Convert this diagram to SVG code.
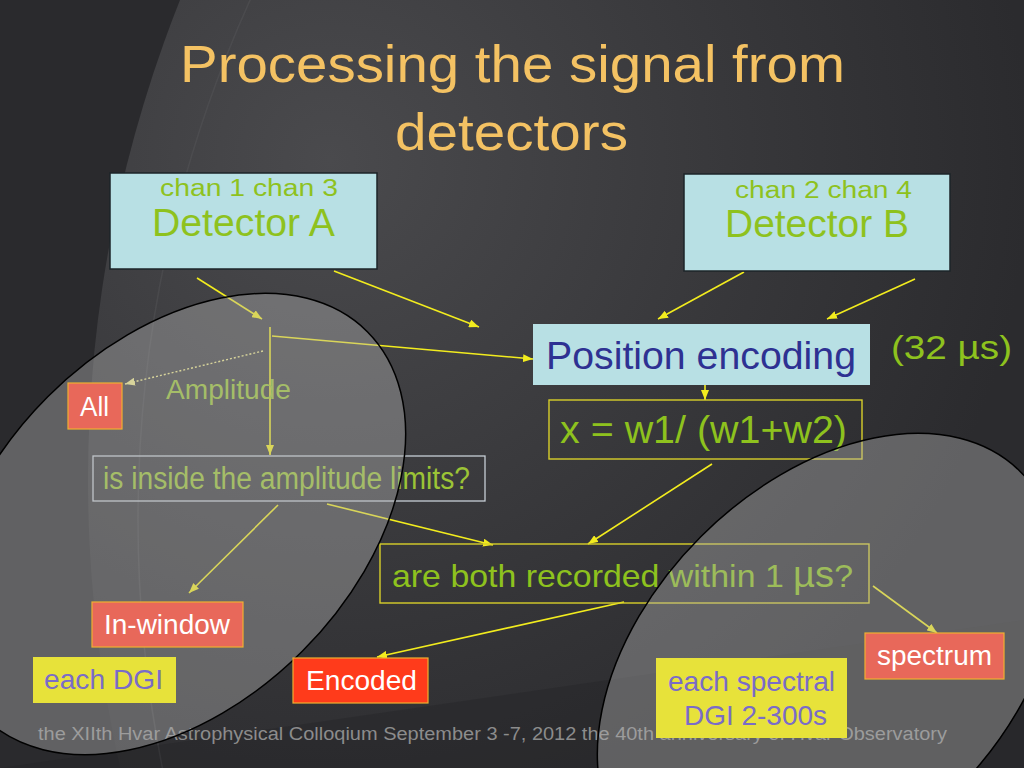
<svg xmlns="http://www.w3.org/2000/svg" width="1024" height="768" viewBox="0 0 1024 768">
<defs>
  <radialGradient id="glow" gradientUnits="userSpaceOnUse" cx="330" cy="160" r="700">
    <stop offset="0" stop-color="#4a4a4d"/>
    <stop offset="0.6" stop-color="#37373a"/>
    <stop offset="1" stop-color="#2b2b2e"/>
  </radialGradient>
  <marker id="ah" viewBox="0 0 10 8" refX="10" refY="4" markerWidth="10" markerHeight="8" markerUnits="userSpaceOnUse" orient="auto">
    <path d="M0,0 L10,4 L0,8 z" fill="#f2ec1e"/>
  </marker>
  <marker id="ahd" viewBox="0 0 10 8" refX="10" refY="4" markerWidth="10" markerHeight="8" markerUnits="userSpaceOnUse" orient="auto">
    <path d="M0,0 L10,4 L0,8 z" fill="#eee88a"/>
  </marker>
</defs>
<style>
  text { font-family: "Liberation Sans", Arial, sans-serif; }
  .conn { stroke: #f2ec1e; stroke-width: 1.6; fill: none; marker-end: url(#ah); }
  .dotted { stroke: #eee88a; stroke-width: 1.4; stroke-dasharray: 2 2; fill: none; marker-end: url(#ahd); }
  .det { fill: #b8e0e4; stroke: #1c2428; stroke-width: 1.5; }
  .pe { fill: #b8e0e4; }
  .green { fill: #8ec21e; }
  .ybox { fill: none; stroke: #d8cf2a; stroke-width: 1.4; }
  .red { fill: #e8685a; stroke: #f0b030; stroke-width: 1.2; }
  .yel { fill: #e7e23a; }
  .wt { fill: #ffffff; font-size: 27px; }
  .pt { fill: #7a6cc8; font-size: 28px; }
  .ell { fill: #b4b4b4; fill-opacity: 0.4; stroke: #000000; stroke-width: 1.5; }
</style>

<!-- background -->
<rect x="0" y="0" width="1024" height="768" fill="#2a2a2d"/>
<circle cx="1386" cy="480" r="1298" fill="url(#glow)"/>
<circle cx="1400" cy="520" r="1262" fill="none" stroke="#5c5c5f" stroke-opacity="0.35" stroke-width="1.5"/>
<path d="M0,768 L1024,620 L1024,768 Z" fill="#222225" fill-opacity="0.35"/>

<!-- footer -->
<text x="38" y="740" font-size="18" fill="#8c8c8c" textLength="909" lengthAdjust="spacingAndGlyphs">the  XIIth Hvar Astrophysical Colloqium September 3 -7, 2012 the 40th anniversary of Hvar Observatory</text>

<!-- title -->
<g id="title" fill="#f4c263">
  <text x="180" y="82" font-size="52" textLength="665" lengthAdjust="spacingAndGlyphs">Processing the signal from</text>
  <text x="395" y="150" font-size="52" textLength="233" lengthAdjust="spacingAndGlyphs">detectors</text>
</g>

<!-- connectors -->
<g id="connectors">
  <line class="conn" x1="197" y1="278" x2="262" y2="319"/>
  <line class="conn" x1="334" y1="271" x2="479" y2="327"/>
  <line class="conn" x1="270" y1="327" x2="270" y2="455"/>
  <line class="conn" x1="272" y1="336" x2="533" y2="359"/>
  <line class="dotted" x1="263" y1="351" x2="125" y2="384"/>
  <line class="conn" x1="744" y1="272" x2="658" y2="319"/>
  <line class="conn" x1="915" y1="279" x2="827" y2="319"/>
  <line class="conn" x1="705" y1="385" x2="705" y2="400"/>
  <line class="conn" x1="712" y1="464" x2="588" y2="544"/>
  <line class="conn" x1="327" y1="504" x2="493" y2="545"/>
  <line class="conn" x1="278" y1="505" x2="189" y2="593"/>
  <line class="conn" x1="624" y1="602" x2="377" y2="657"/>
  <line class="conn" x1="873" y1="586" x2="937" y2="633"/>
</g>

<g id="detectorA">
  <rect class="det" x="110" y="173" width="267" height="96"/>
  <text class="green" x="160" y="196" font-size="23" textLength="178" lengthAdjust="spacingAndGlyphs">chan 1 chan 3</text>
  <text class="green" x="152" y="236" font-size="39" textLength="183" lengthAdjust="spacingAndGlyphs">Detector A</text>
</g>

<g id="detectorB">
  <rect class="det" x="684" y="174" width="266" height="97"/>
  <text class="green" x="735" y="198" font-size="23" textLength="177" lengthAdjust="spacingAndGlyphs">chan 2 chan 4</text>
  <text class="green" x="725" y="237" font-size="39" textLength="184" lengthAdjust="spacingAndGlyphs">Detector B</text>
</g>

<g id="positionEncoding">
  <rect class="pe" x="533" y="324" width="337" height="61"/>
  <text x="546" y="369" font-size="39" fill="#2e3192" textLength="310" lengthAdjust="spacingAndGlyphs">Position encoding</text>
</g>

<g id="time32">
  <text class="green" x="891" y="359" font-size="34" textLength="121" lengthAdjust="spacingAndGlyphs">(32 µs)</text>
</g>

<g id="formula">
  <rect class="ybox" x="549" y="400" width="313" height="59"/>
  <text class="green" x="560" y="443" font-size="39" textLength="287" lengthAdjust="spacingAndGlyphs">x = w1/ (w1+w2)</text>
</g>

<g id="amplitude">
  <text x="166" y="399" font-size="27" fill="#9cc436" textLength="125" lengthAdjust="spacingAndGlyphs">Amplitude</text>
</g>

<g id="insideLimits">
  <rect x="93" y="456" width="392" height="45" fill="none" stroke="#c6ced6" stroke-width="1.3"/>
  <text x="103" y="489" font-size="31" fill="#9cc436" textLength="367" lengthAdjust="spacingAndGlyphs">is inside the amplitude limits?</text>
</g>

<g id="bothRecorded">
  <rect class="ybox" x="380" y="544" width="489" height="59"/>
  <text class="green" x="392" y="587" font-size="32" textLength="461" lengthAdjust="spacingAndGlyphs">are both recorded within 1 <tspan font-size="36">µs</tspan>?</text>
</g>

<!-- translucent ellipses -->
<ellipse class="ell" cx="175" cy="524" rx="272" ry="180" transform="rotate(-45 175 524)"/>
<ellipse class="ell" cx="828" cy="664" rx="272" ry="180" transform="rotate(-45 828 664)"/>

<g id="all">
  <rect class="red" x="68" y="383" width="54" height="46"/>
  <text class="wt" x="80" y="416" font-size="26" textLength="29" lengthAdjust="spacingAndGlyphs">All</text>
</g>

<g id="inWindow">
  <rect class="red" x="92" y="602" width="151" height="45"/>
  <text class="wt" x="104" y="634" textLength="126" lengthAdjust="spacingAndGlyphs">In-window</text>
</g>

<g id="eachDGI">
  <rect class="yel" x="33" y="657" width="143" height="46"/>
  <text class="pt" x="44" y="689" textLength="119" lengthAdjust="spacingAndGlyphs">each DGI</text>
</g>

<g id="encoded">
  <rect x="293" y="658" width="135" height="45" fill="#ff3b1b" stroke="#f0b030" stroke-width="1.2"/>
  <text class="wt" x="306" y="690" textLength="111" lengthAdjust="spacingAndGlyphs">Encoded</text>
</g>

<g id="spectrum">
  <rect class="red" x="865" y="633" width="139" height="46"/>
  <text class="wt" x="877" y="665" textLength="115" lengthAdjust="spacingAndGlyphs">spectrum</text>
</g>

<g id="eachSpectral">
  <rect class="yel" x="656" y="658" width="191" height="80"/>
  <text class="pt" x="668" y="691" textLength="167" lengthAdjust="spacingAndGlyphs">each spectral</text>
  <text class="pt" x="684" y="725" textLength="143" lengthAdjust="spacingAndGlyphs">DGI 2-300s</text>
</g>
</svg>
